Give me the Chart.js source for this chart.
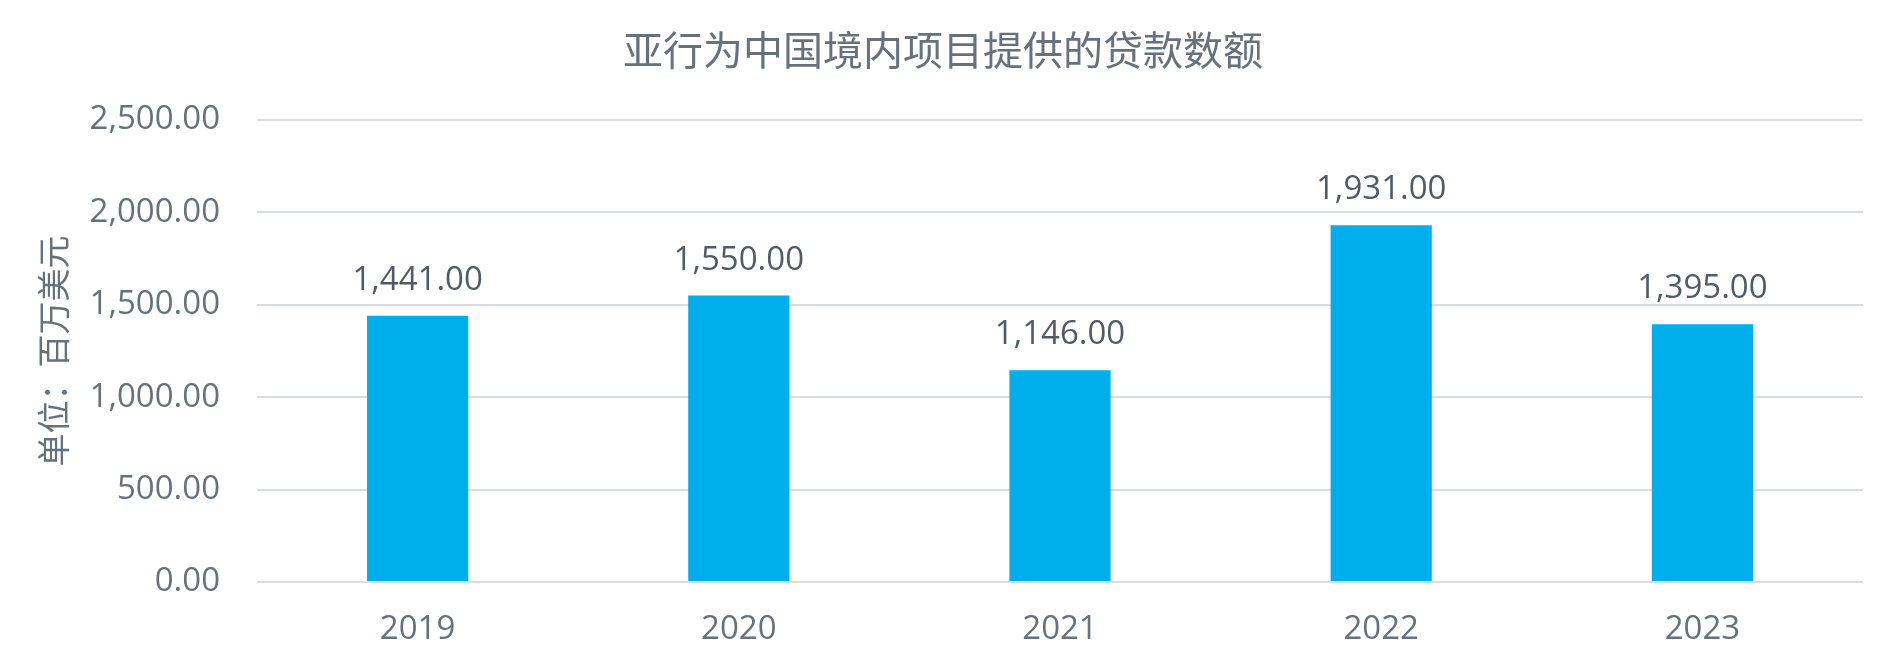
<!DOCTYPE html>
<html>
<head>
<meta charset="utf-8">
<script src="https://cdn.jsdelivr.net/npm/chart.js@4/dist/chart.umd.min.js"></script>
<style>
  html, body { margin: 0; padding: 0; background: #fff; }
  #wrap { width: 1886px; height: 663px; }
</style>
</head>
<body>
<div id="wrap"><canvas id="loanChart"></canvas></div>
<script>
// years and loan amounts (million USD)
const years = ["2019", "2020", "2021", "2022", "2023"];
const loanAmounts = [1441, 1550, 1146, 1931, 1395];
const yTicks = [0, 500, 1000, 1500, 2000, 2500];

const FONT = "'Open Sans', 'Noto Sans CJK SC', sans-serif";
const fmt = v => v.toLocaleString("en-US", { minimumFractionDigits: 2, maximumFractionDigits: 2 });

// draws the value above each bar
const barValueLabels = {
  id: "barValueLabels",
  afterDatasetsDraw(chart) {
    const ctx = chart.ctx;
    const meta = chart.getDatasetMeta(0);
    ctx.save();
    ctx.font = "33px " + FONT;
    ctx.fillStyle = "#515b65";
    ctx.textAlign = "center";
    ctx.textBaseline = "alphabetic";
    meta.data.forEach((bar, i) => {
      ctx.fillText(fmt(loanAmounts[i]), bar.x, bar.y - 26);
    });
    ctx.restore();
  }
};

const ctx = document.getElementById("loanChart").getContext("2d");
new Chart(ctx, {
  type: "bar",
  data: {
    labels: years,
    datasets: [{
      data: loanAmounts,
      backgroundColor: "#00aeeb",
      categoryPercentage: 1,
      barPercentage: 0.315
    }]
  },
  options: {
    responsive: true,
    maintainAspectRatio: false,
    animation: false,
    layout: { padding: { left: 23, right: 23, top: 0, bottom: 0 } },
    plugins: {
      legend: { display: false },
      tooltip: { enabled: false },
      title: {
        display: true,
        text: "亚行为中国境内项目提供的贷款数额",
        color: "#66717c",
        font: { family: FONT, size: 40, weight: "normal" },
        padding: { top: 30, bottom: 42 }
      }
    },
    scales: {
      x: {
        grid: { display: false, drawTicks: false },
        border: { display: false },
        ticks: { color: "#66717c", font: { family: FONT, size: 33 }, padding: 28 },
        afterFit: s => { s.height = 81; }
      },
      y: {
        min: 0,
        max: 2500,
        afterBuildTicks: s => { s.ticks = yTicks.map(v => ({ value: v })); },
        grid: { color: "#d9dde2", lineWidth: 2, drawTicks: false },
        border: { display: false },
        ticks: {
          color: "#66717c",
          font: { family: FONT, size: 33 },
          padding: 37,
          callback: v => fmt(v)
        },
        title: {
          display: true,
          text: "单位：百万美元",
          color: "#66717c",
          font: { family: FONT, size: 33 },
          padding: { top: 14, bottom: 0 }
        },
        afterFit: s => { s.width = 234; }
      }
    }
  },
  plugins: [barValueLabels]
});
</script>
</body>
</html>
